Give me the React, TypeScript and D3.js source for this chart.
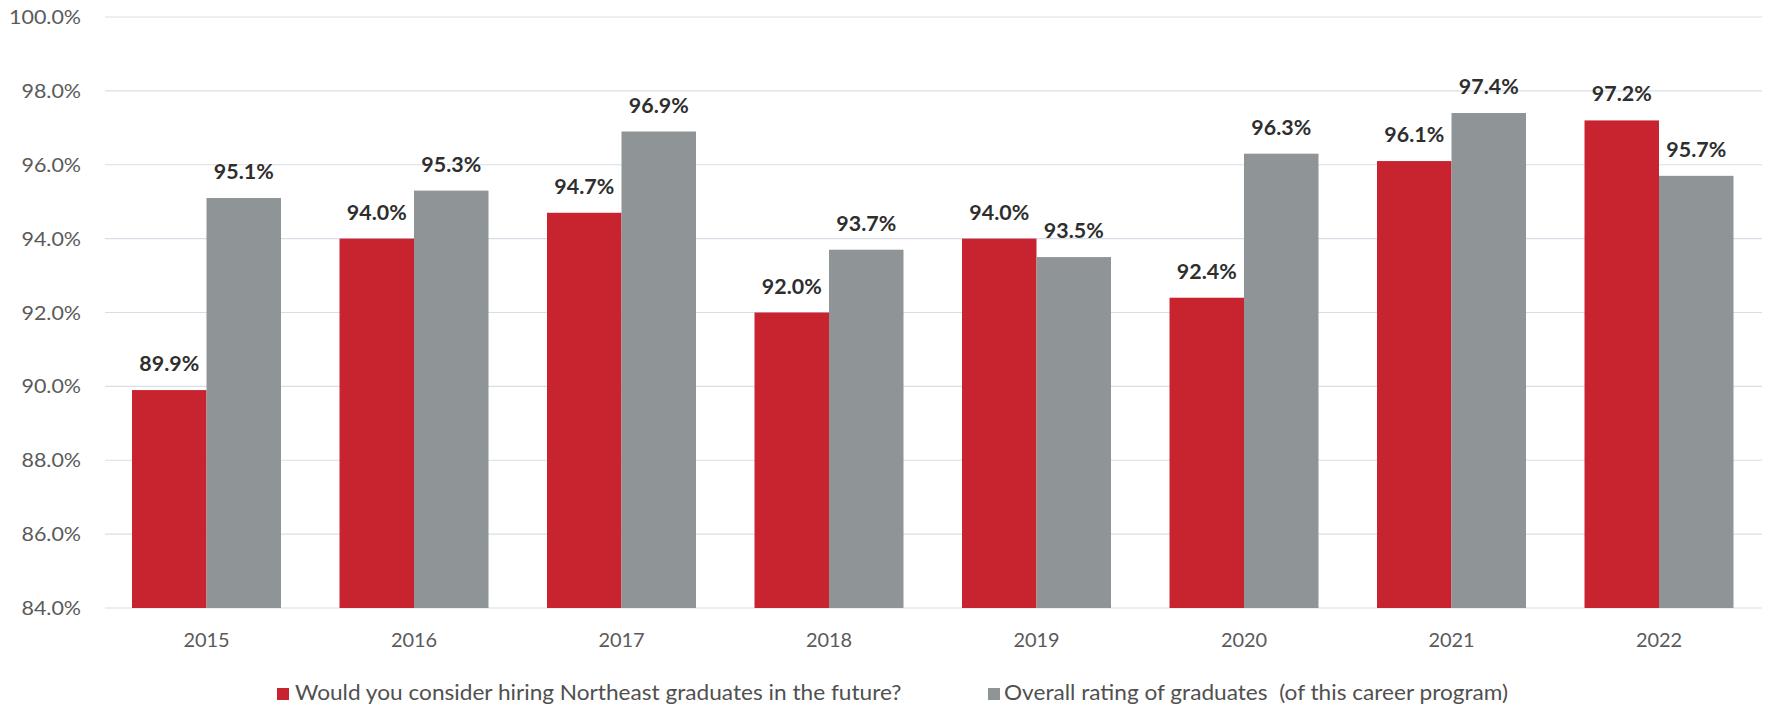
import React from "react";
import * as d3 from "d3";

const years = ["2015", "2016", "2017", "2018", "2019", "2020", "2021", "2022"];
const hiring = [89.9, 94.0, 94.7, 92.0, 94.0, 92.4, 96.1, 97.2];
const rating = [95.1, 95.3, 96.9, 93.7, 93.5, 96.3, 97.4, 95.7];
const yTicks = [84, 86, 88, 90, 92, 94, 96, 98, 100];
const seriesNames = [
  "Would you consider hiring Northeast graduates in the future?",
  "Overall rating of graduates  (of this career program)",
];
const colors = ["#C8242F", "#8F9497"];

const W = 1765;
const H = 707;
const FONT = "Lato, 'Open Sans', sans-serif";

function SText(props: {
  x: number;
  y: number;
  sx: number;
  anchor?: string;
  size: number;
  weight?: number;
  fill: string;
  children: React.ReactNode;
}) {
  return (
    <text
      transform={`translate(${props.x},${props.y}) scale(${props.sx},1)`}
      textAnchor={props.anchor || "start"}
      fontSize={props.size}
      fontWeight={props.weight || 400}
      fill={props.fill}
      xmlSpace="preserve"
      style={{ whiteSpace: "pre" }}
    >
      {props.children}
    </text>
  );
}

export default function App() {
  const x = d3.scaleBand<string>().domain(years).range([102.75, 1762.75]).paddingInner(0.282).paddingOuter(0.141);
  const inner = d3.scaleBand<number>().domain([0, 1]).range([0, x.bandwidth()]);
  const y = d3.scaleLinear().domain([84, 100]).range([608, 17]);
  const series = [hiring, rating];

  return (
    <div style={{ position: "absolute", left: 0, top: 0 }}>
      <svg width={W} height={H} style={{ display: "block", background: "#fff" }} fontFamily={FONT}>
        {yTicks.map((t) => (
          <g key={t}>
            <line x1={105} x2={1762} y1={y(t)} y2={y(t)} stroke="#d8dee8" strokeWidth={1.2} />
            <SText x={81} y={y(t) + 7} sx={1.1} anchor="end" size={19.5} fill="#5a5a5a">
              {d3.format(".1f")(t) + "%"}
            </SText>
          </g>
        ))}
        {series.map((vals, si) =>
          vals.map((v, i) => {
            const bx = (x(years[i]) as number) + (inner(si) as number);
            const bw = inner.bandwidth();
            return (
              <g key={`${si}-${i}`}>
                <rect x={bx} y={y(v)} width={bw} height={y(84) - y(v)} fill={colors[si]} />
                <SText x={bx + bw / 2} y={y(v) - 19} sx={1.07} anchor="middle" size={20} weight={700} fill="#2e2e2e">
                  {d3.format(".1f")(v) + "%"}
                </SText>
              </g>
            );
          })
        )}
        {years.map((yr) => (
          <SText key={yr} x={(x(yr) as number) + x.bandwidth() / 2} y={647} sx={1.05} anchor="middle" size={19} fill="#5a5a5a">
            {yr}
          </SText>
        ))}
        <g>
          <rect x={277} y={688} width={12} height={12} fill={colors[0]} />
          <SText x={295} y={700} sx={1.078} size={21} fill="#505050">{seriesNames[0]}</SText>
          <rect x={988} y={688} width={12} height={12} fill={colors[1]} />
          <SText x={1004} y={700} sx={1.078} size={21} fill="#505050">{seriesNames[1]}</SText>
        </g>
      </svg>
    </div>
  );
}
